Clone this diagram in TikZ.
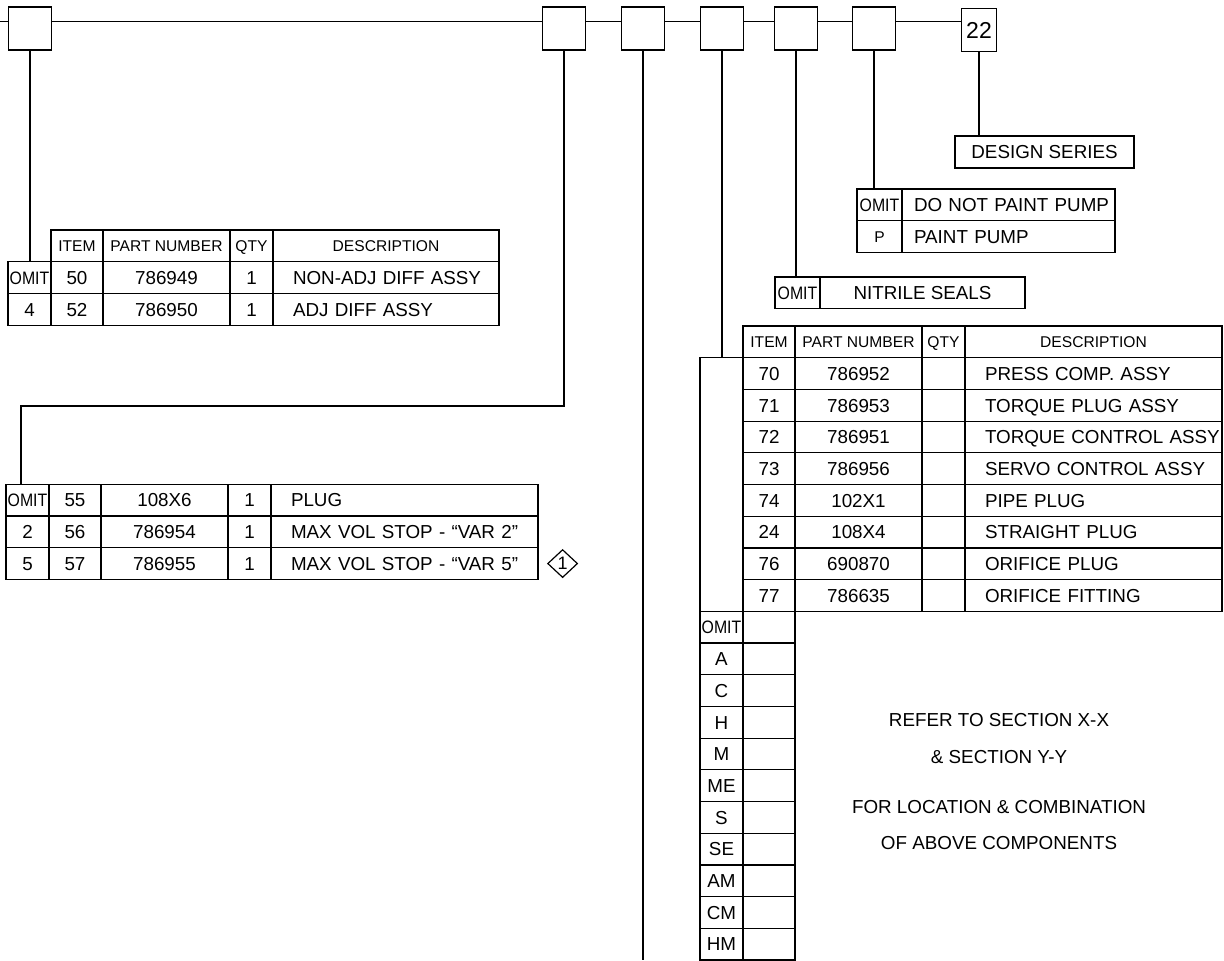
\documentclass[tikz,border=0pt]{standalone}
\usepackage{fontspec}
\setmainfont{Liberation Sans}
\usepackage{graphicx}
\usetikzlibrary{positioning, shapes.geometric, backgrounds}

\newcommand{\donnee}{\fontsize{9.4}{11}\selectfont}
\newcommand{\entete}{\fontsize{7.8}{9}\selectfont}
\newcommand{\codeomit}{\scalebox{0.88}[1]{\fontsize{9}{10}\selectfont OMIT}}

\begin{document}
\begin{tikzpicture}[x=0.5pt, y=-0.5pt, node distance=0pt, line width=0.6pt]
    % Styles
    \tikzset{
        boite/.style = {rectangle, draw, fill=white, minimum width=21.5pt, minimum height=21.5pt, inner sep=0pt, outer sep=0pt},
        cell/.style  = {rectangle, draw, inner sep=0pt, outer sep=0pt, minimum height=15.85pt, text height=6.8pt, text depth=0pt, font=\donnee},
        code/.style  = {cell, minimum width=21.5pt},
        item/.style  = {cell, minimum width=26pt},
        pn/.style    = {cell, minimum width=63.5pt},
        qty/.style   = {cell, minimum width=21.5pt},
        desc/.style  = {cell, text width=#1, align=left, execute at begin node={\noindent\hspace*{10pt}}},
        peint/.style = {cell, text width=106.5pt, align=left, execute at begin node={\noindent\hspace*{6pt}}},
        head/.style  = {font=\entete, text height=5.6pt},
        line/.style  = {draw}
    }
    \useasboundingbox (0,0) rectangle (1224,960);

    % Cases du code
    \node [boite] (b1) at (30,28.5) {};
    \node [boite] (b2) at (564,28.5) {};
    \node [boite] (b3) at (643,28.5) {};
    \node [boite] (b4) at (722,28.5) {};
    \node [boite] (b5) at (796,28.5) {};
    \node [boite] (b6) at (874,28.5) {};
    \node [boite, minimum width=17.5pt, font=\fontsize{11.5}{12}\selectfont] (b22) at (979,30) {22};

    \coordinate (depart) at (0,21);
    \coordinate (coude) at (21,406);
    \coordinate (bas) at (0,960);

    % Tableau du differentiel
    \node [item, head, anchor=north west] (t1h1) at (51,230) {ITEM};
    \node [pn, head, right=of t1h1] (t1h2) {PART NUMBER};
    \node [qty, head, right=of t1h2] (t1h3) {QTY};
    \node [cell, head, minimum width=113pt, right=of t1h3] (t1h4) {DESCRIPTION};
    \node [code, below left=of t1h1.south west] (t1a0) {\codeomit};
    \node [item, right=of t1a0] (t1a1) {50};
    \node [pn, right=of t1a1] (t1a2) {786949};
    \node [qty, right=of t1a2] (t1a3) {1};
    \node [desc=113pt, right=of t1a3] (t1a4) {NON-ADJ DIFF ASSY};
    \node [code, below=of t1a0] (t1b0) {4};
    \node [item, right=of t1b0] (t1b1) {52};
    \node [pn, right=of t1b1] (t1b2) {786950};
    \node [qty, right=of t1b2] (t1b3) {1};
    \node [desc=113pt, right=of t1b3] (t1b4) {ADJ DIFF ASSY};

    % Tableau des butees
    \node [code, anchor=north west] (t2a0) at (6,484.3) {\codeomit};
    \node [item, right=of t2a0] (t2a1) {55};
    \node [pn, right=of t2a1] (t2a2) {108X6};
    \node [qty, right=of t2a2] (t2a3) {1};
    \node [desc=133.5pt, right=of t2a3] (t2a4) {PLUG};
    \node [code, below=of t2a0] (t2b0) {2};
    \node [item, right=of t2b0] (t2b1) {56};
    \node [pn, right=of t2b1] (t2b2) {786954};
    \node [qty, right=of t2b2] (t2b3) {1};
    \node [desc=133.5pt, right=of t2b3] (t2b4) {MAX VOL STOP - “VAR 2”};
    \node [code, below=of t2b0] (t2c0) {5};
    \node [item, right=of t2c0] (t2c1) {57};
    \node [pn, right=of t2c1] (t2c2) {786955};
    \node [qty, right=of t2c2] (t2c3) {1};
    \node [desc=133.5pt, right=of t2c3] (t2c4) {MAX VOL STOP - “VAR 5”};
    \node [diamond, draw, inner sep=0pt, minimum width=15pt, minimum height=14pt, font=\fontsize{9}{10}\selectfont, right=4.5pt of t2c4] (note) {1};

    % Serie, peinture, joints
    \node [cell, minimum width=89.5pt, minimum height=16pt, anchor=north west] (serie) at (955,136) {DESIGN SERIES};
    \node [code, minimum width=22.5pt, anchor=north west] (p0) at (857,189) {\codeomit};
    \node [peint, right=of p0] (p1) {DO NOT PAINT PUMP};
    \node [code, head, minimum width=22.5pt, below=of p0] (q0) {P};
    \node [peint, right=of q0] (q1) {PAINT PUMP};
    \node [code, minimum width=22.5pt, anchor=north west] (n0) at (775,277) {\codeomit};
    \node [cell, minimum width=102.5pt, right=of n0] (n1) {NITRILE SEALS};

    % Tableau des composants
    \node [item, head, anchor=north west] (t3h1) at (743,326) {ITEM};
    \node [pn, head, right=of t3h1] (t3h2) {PART NUMBER};
    \node [qty, head, right=of t3h2] (t3h3) {QTY};
    \node [cell, head, minimum width=128.5pt, right=of t3h3] (t3h4) {DESCRIPTION};
    \node [code, minimum height=126.8pt, below left=of t3h1.south west] (t3g) {};
    \node [item, below=of t3h1] (t3a1) {70};
    \node [pn, right=of t3a1] (t3a2) {786952};
    \node [qty, right=of t3a2] (t3a3) {};
    \node [desc=128.5pt, right=of t3a3] (t3a4) {PRESS COMP. ASSY};
    \node [item, below=of t3a1] (t3b1) {71};
    \node [pn, right=of t3b1] (t3b2) {786953};
    \node [qty, right=of t3b2] (t3b3) {};
    \node [desc=128.5pt, right=of t3b3] (t3b4) {TORQUE PLUG ASSY};
    \node [item, below=of t3b1] (t3c1) {72};
    \node [pn, right=of t3c1] (t3c2) {786951};
    \node [qty, right=of t3c2] (t3c3) {};
    \node [desc=128.5pt, right=of t3c3] (t3c4) {TORQUE CONTROL ASSY};
    \node [item, below=of t3c1] (t3d1) {73};
    \node [pn, right=of t3d1] (t3d2) {786956};
    \node [qty, right=of t3d2] (t3d3) {};
    \node [desc=128.5pt, right=of t3d3] (t3d4) {SERVO CONTROL ASSY};
    \node [item, below=of t3d1] (t3e1) {74};
    \node [pn, right=of t3e1] (t3e2) {102X1};
    \node [qty, right=of t3e2] (t3e3) {};
    \node [desc=128.5pt, right=of t3e3] (t3e4) {PIPE PLUG};
    \node [item, below=of t3e1] (t3f1) {24};
    \node [pn, right=of t3f1] (t3f2) {108X4};
    \node [qty, right=of t3f2] (t3f3) {};
    \node [desc=128.5pt, right=of t3f3] (t3f4) {STRAIGHT PLUG};
    \node [item, below=of t3f1] (t3g1) {76};
    \node [pn, right=of t3g1] (t3g2) {690870};
    \node [qty, right=of t3g2] (t3g3) {};
    \node [desc=128.5pt, right=of t3g3] (t3g4) {ORIFICE PLUG};
    \node [item, below=of t3g1] (t3h1b) {77};
    \node [pn, right=of t3h1b] (t3h2b) {786635};
    \node [qty, right=of t3h2b] (t3h3b) {};
    \node [desc=128.5pt, right=of t3h3b] (t3h4b) {ORIFICE FITTING};

    % Codes de combinaison
    \node [code, below=of t3g] (v1) {\codeomit};
    \node [code, below=of v1] (v2) {A};
    \node [code, below=of v2] (v3) {C};
    \node [code, below=of v3] (v4) {H};
    \node [code, below=of v4] (v5) {M};
    \node [code, below=of v5] (v6) {ME};
    \node [code, below=of v6] (v7) {S};
    \node [code, below=of v7] (v8) {SE};
    \node [code, below=of v8] (v9) {AM};
    \node [code, below=of v9] (v10) {CM};
    \node [code, below=of v10] (v11) {HM};
    \node [item, right=of v1] (w1) {};
    \node [item, right=of v2] (w2) {};
    \node [item, right=of v3] (w3) {};
    \node [item, right=of v4] (w4) {};
    \node [item, right=of v5] (w5) {};
    \node [item, right=of v6] (w6) {};
    \node [item, right=of v7] (w7) {};
    \node [item, right=of v8] (w8) {};
    \node [item, right=of v9] (w9) {};
    \node [item, right=of v10] (w10) {};
    \node [item, right=of v11] (w11) {};

    \node [font=\donnee] (ref1) at (999,720) {REFER TO SECTION X-X};
    \node [font=\donnee] (ref2) at (999,757) {\& SECTION Y-Y};
    \node [font=\donnee] (ref3) at (999,807) {FOR LOCATION \& COMBINATION};
    \node [font=\donnee] (ref4) at (999,843) {OF ABOVE COMPONENTS};

    % Liaisons
    \begin{scope}[on background layer]
        \path [line] (depart) -- (b22.west |- depart);
    \end{scope}
    \path [line] (b1.south) -- (b1.south |- t1a0.north);
    \path [line] (b2.south) |- (coude) -- (coude |- t2a0.north);
    \path [line] (b3.south) -- (b3.south |- bas);
    \path [line] (b4.south) -- (b4.south |- t3g.north);
    \path [line] (b5.south) -- (b5.south |- n0.north);
    \path [line] (b6.south) -- (b6.south |- p0.north);
    \path [line] (b22.south) -- (b22.south |- serie.north);
\end{tikzpicture}
\end{document}
